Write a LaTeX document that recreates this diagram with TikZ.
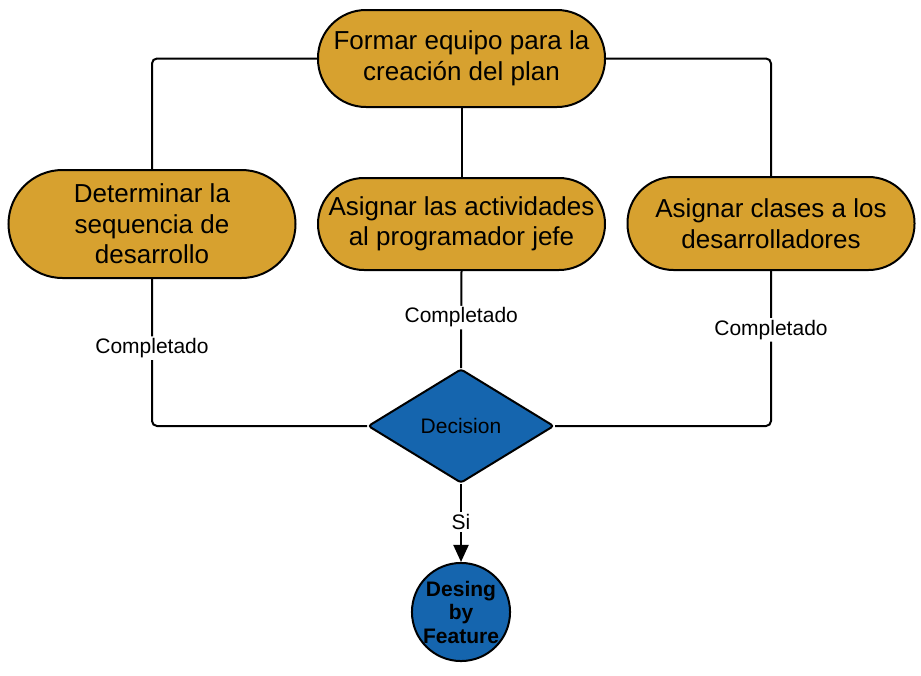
\documentclass[tikz,border=0pt]{standalone}
\usepackage{fontspec}
\setmainfont{Liberation Sans}
\usetikzlibrary{shapes.geometric,arrows.meta}
\definecolor{gold}{HTML}{D7A12F}
\definecolor{fblue}{HTML}{1565AE}
\tikzset{
  term/.style={draw=black, line width=2pt, fill=gold, rectangle, align=center,
    minimum width=287pt, inner sep=0pt, font=\fontsize{26}{30.5}\selectfont},
  lbl/.style={fill=white, inner sep=2pt, font=\fontsize{21}{24}\selectfont},
  conn/.style={line width=2pt, rounded corners=5pt},
}
\begin{document}
\begin{tikzpicture}[x=1pt,y=-1pt]
\useasboundingbox (0,0) rectangle (921,675);
\node[term, minimum height=97pt, rounded corners=48pt] (top) at (461.5,58.5) {Formar equipo para la\\creación del plan};
\node[term, minimum height=108pt, rounded corners=54pt] (left) at (152,224) {Determinar la\\sequencia de\\desarrollo};
\node[term, minimum height=92pt, rounded corners=46pt] (mid) at (461.5,224) {Asignar las actividades\\al programador jefe};
\node[term, minimum height=93pt, rounded corners=46pt] (right) at (771,223.5) {Asignar clases a los\\desarrolladores};
\node[diamond, draw=black, line width=2pt, fill=fblue, rounded corners=3pt, minimum width=186pt, minimum height=114pt, inner sep=0pt, font=\fontsize{21}{24}\selectfont] (dec) at (461,426) {Decision};
\node[circle, draw=black, line width=2pt, fill=fblue, minimum size=96pt, inner sep=0pt, align=center, font=\fontsize{21}{23.5}\selectfont\bfseries] (fin) at (461,612) {Desing\\by\\Feature};
\draw[conn] (top.west) -| (left.north);
\draw[conn] (top.east) -| (right.north);
\draw[conn] (top.south) -- (mid.north);
\draw[conn] (left.south) |- node[lbl, pos=0.235] {Completado} (dec.west);
\draw[conn] (mid.south) -- node[lbl, pos=0.48] {Completado} (dec.north);
\draw[conn] (right.south) |- node[lbl, pos=0.19] {Completado} (dec.east);
\draw[line width=2pt, -{Triangle[length=17pt,width=15pt]}] (dec.south) -- node[lbl, pos=0.49] {Si} (fin.north);
\end{tikzpicture}
\end{document}
